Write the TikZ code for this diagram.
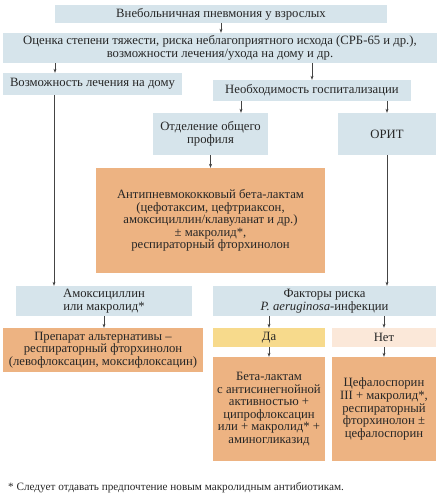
\documentclass[tikz,border=0pt]{standalone}
\usepackage{fontspec}
\setmainfont{Liberation Serif}
\usepackage{tikz}
\usetikzlibrary{arrows.meta}
\definecolor{boxblue}{HTML}{D6E4EB}
\definecolor{boxorange}{HTML}{EDB382}
\definecolor{boxyellow}{HTML}{F7DA8C}
\definecolor{boxpeach}{HTML}{FBE8D9}
\definecolor{linegray}{HTML}{444444}

\begin{document}
\begin{tikzpicture}[x=1pt,y=-1pt,
	every node/.style={font=\fontsize{12.7}{12.6}\selectfont, inner sep=0pt, align=center, text=black!85},
	blue/.style={fill=boxblue},
	orange/.style={fill=boxorange},
	arr/.style={draw=linegray, line width=0.5pt, -{Stealth[length=4pt,width=3pt]}}]
					\useasboundingbox (0,0) rectangle (441,500);
					\node[blue, minimum width=332, minimum height=18] (title) at (221,14) {Внебольничная пневмония у взрослых};
					\node[blue, minimum width=434, minimum height=30] (assess) at (220,48) {Оценка степени тяжести, риска неблагоприятного исхода (СРБ-65 и др.),\\возможности лечения/ухода на дому и др.};
					\node[blue, minimum width=179, minimum height=22] (home) at (92.5,84) {Возможность лечения на дому};
					\node[blue, minimum width=198, minimum height=21] (hosp) at (312,90.5) {Необходимость госпитализации};
					\node[blue, minimum width=115, minimum height=42] (ward) at (210.5,134) {Отделение общего\\профиля};
					\node[blue, minimum width=98, minimum height=42] (icu) at (387,134) {ОРИТ};
					\node[orange, minimum width=229, minimum height=105] (betalact) at (210.5,220.5) {Антипневмококковый бета-лактам\\(цефотаксим, цефтриаксон,\\амоксициллин/клавуланат и др.)\\± макролид*,\\респираторный фторхинолон};
					\node[blue, minimum width=176, minimum height=30] (amox) at (104,301) {Амоксициллин\\или макролид*};
					\node[blue, minimum width=223, minimum height=30] (risk) at (324.5,301) {Факторы риска\\\textit{P. aeruginosa}-инфекции};
					\node[orange, minimum width=200, minimum height=44] (alt) at (103,350) {Препарат альтернативы –\\респираторный фторхинолон\\(левофлоксацин, моксифлоксацин)};
					\node[fill=boxyellow, minimum width=112, minimum height=19] (yes) at (269,337.5) {Да};
					\node[fill=boxpeach, minimum width=104, minimum height=19] (no) at (384,337.5) {Нет};
					\node[orange, minimum width=112, minimum height=104] (yestx) at (269,409) {Бета-лактам\\с антисинегнойной\\активностью +\\ципрофлоксацин\\или + макролид* +\\аминогликазид};
					\node[orange, minimum width=104, minimum height=104] (notx) at (384,409) {Цефалоспорин\\III + макролид*,\\респираторный\\фторхинолон ±\\цефалоспорин};
					\node[anchor=west, font=\fontsize{11.2}{12}\selectfont] (note) at (8,488) {* Следует отдавать предпочтение новым макролидным антибиотикам.};
					\draw[arr] (title.south) -- (title.south |- assess.north);
					\draw[arr] ([xshift=-37.5pt]home.north |- assess.south) -- ([xshift=-37.5pt]home.north);
					\draw[arr] (hosp.north |- assess.south) -- (hosp.north);
					\draw[arr] ([xshift=30.5pt]ward.north |- hosp.south) -- ([xshift=30.5pt]ward.north);
					\draw[arr] (icu.north |- hosp.south) -- (icu.north);
					\draw[arr] (ward.south) -- (ward.south |- betalact.north);
					\draw[arr] ([xshift=-38.5pt]home.south) -- ([xshift=-38.5pt]home.south |- amox.north);
					\draw[arr] (icu.south) -- (icu.south |- risk.north);
					\draw[arr] (amox.south) -- (amox.south |- alt.north);
					\draw[arr] (yes.north |- risk.south) -- (yes.north);
					\draw[arr] (no.north |- risk.south) -- (no.north);
					\draw[arr] (yes.south) -- (yestx.north);
					\draw[arr] (no.south) -- (notx.north);
				\end{tikzpicture}
\end{document}
